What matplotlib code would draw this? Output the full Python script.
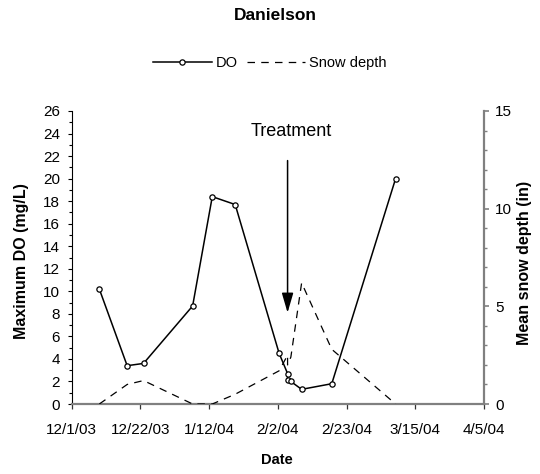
#!/usr/bin/env python
"""Danielson: maximum DO and mean snow depth over winter 2003-04 (out.png)."""
import matplotlib
matplotlib.use("Agg")
import matplotlib.pyplot as plt
from matplotlib.ticker import MultipleLocator
import pandas as pd

plt.rcParams["font.family"] = ["Liberation Sans", "DejaVu Sans"]

# sampling dates and the two series
sample_dates = ["2003-12-09 12:00", "2003-12-18 00:00", "2003-12-23 00:00",
                "2004-01-07 00:00", "2004-01-13 00:00", "2004-01-20 00:00",
                "2004-02-02 10:00", "2004-02-05 00:00", "2004-02-05 00:00",
                "2004-02-06 00:00", "2004-02-09 07:00", "2004-02-18 12:00",
                "2004-03-09 00:00"]
max_do = [10.2, 3.4, 3.6, 8.7, 18.4, 17.7, 4.5, 2.7, 2.1, 2.0, 1.3, 1.8, 20.0]
snow_depth = [0.0, 1.0, 1.2, 0.0, 0.0, 0.5, 1.7, 2.5, 2.0, 2.4, 6.2, 2.8, 0.0]

tick_dates = ["2003-12-01", "2003-12-22", "2004-01-12", "2004-02-02",
              "2004-02-23", "2004-03-15", "2004-04-05"]
tick_labels = ["12/1/03", "12/22/03", "1/12/04", "2/2/04", "2/23/04",
               "3/15/04", "4/5/04"]

treatment_date = "2004-02-05"
treatment_text_date = "2004-02-06"
arrow_top, arrow_tip, text_y = 21.6, 8.1, 24.2

GREY = "#808080"


def main():
    dates = pd.to_datetime(sample_dates, format="%Y-%m-%d %H:%M")
    ticks = pd.to_datetime(tick_dates, format="%Y-%m-%d")

    fig = plt.figure(figsize=(5.4, 4.74), dpi=100)
    ax = fig.add_axes([71.5 / 540, 70 / 474, 412.5 / 540, 293 / 474])
    ax2 = ax.twinx()

    l_do, = ax.plot(dates, max_do, color="black", lw=1.1, marker="o", ms=3.8,
                    mfc="white", mec="black", mew=0.9, label="DO", zorder=3)
    l_sn, = ax2.plot(dates, snow_depth, color="black", lw=0.9,
                     ls=(0, (6, 5)), label="Snow depth")

    ax.set_xlim(ticks[0], ticks[-1])
    ax.set_xticks(ticks)
    ax.set_xticklabels(tick_labels)
    ax.set_ylim(0, 26)
    ax.yaxis.set_major_locator(MultipleLocator(2))
    ax.yaxis.set_minor_locator(MultipleLocator(1))
    ax2.set_ylim(0, 15)
    ax2.yaxis.set_major_locator(MultipleLocator(5))
    ax2.yaxis.set_minor_locator(MultipleLocator(1))

    for a in (ax, ax2):
        a.spines["top"].set_visible(False)
    ax.spines["right"].set_visible(False)
    ax2.spines["left"].set_visible(False)
    ax2.spines["bottom"].set_visible(False)
    ax.spines["left"].set_color("black")
    ax.spines["left"].set_linewidth(0.8)
    ax.spines["bottom"].set_color(GREY)
    ax.spines["bottom"].set_linewidth(1.6)
    ax2.spines["right"].set_color(GREY)
    ax2.spines["right"].set_linewidth(1.6)

    ax.tick_params(axis="x", direction="out", length=3.6, width=0.9,
                   color="#333333", labelsize=11, pad=10)
    ax.tick_params(axis="y", which="major", direction="out", length=2.8,
                   width=0.8, labelsize=11, pad=5.5)
    ax.tick_params(axis="y", which="minor", direction="out", length=2.0,
                   width=0.8)
    ax2.tick_params(axis="y", which="major", direction="out", length=3.6,
                    width=1.2, color=GREY, labelsize=11, pad=4.5)
    ax2.tick_params(axis="y", which="minor", direction="out", length=2.2,
                    width=1.0, color=GREY)

    t = pd.Timestamp(treatment_date)
    ax.annotate("", xy=(t, arrow_tip), xytext=(t, arrow_top),
                arrowprops=dict(arrowstyle="-|>,head_length=1.2,head_width=0.35",
                                color="black", lw=1.1, shrinkA=0, shrinkB=0))
    ax.text(pd.Timestamp(treatment_text_date), text_y, "Treatment",
            ha="center", va="center", fontsize=13)

    fig.text(275 / 540, 1 - 15 / 474, "Danielson", ha="center", va="center",
             fontsize=12.5, fontweight="bold")
    fig.text(22 / 540, 1 - 261 / 474, "Maximum DO (mg/L)", rotation=90,
             ha="center", va="center", fontsize=11.5, fontweight="bold")
    fig.text(524 / 540, 1 - 263 / 474, "Mean snow depth (in)", rotation=90,
             ha="center", va="center", fontsize=11.5, fontweight="bold")
    fig.text(277 / 540, 1 - 460 / 474, "Date", ha="center", va="center",
             fontsize=10.5, fontweight="bold")

    fig.legend([l_do, l_sn], ["DO", "Snow depth"], loc="center",
               bbox_to_anchor=(270 / 540, 1 - 63 / 474), ncol=2,
               frameon=False, fontsize=10.5, handlelength=4,
               handletextpad=0.3, columnspacing=0.6)

    fig.savefig("out.png", dpi=100)
    plt.close(fig)


if __name__ == "__main__":
    main()
